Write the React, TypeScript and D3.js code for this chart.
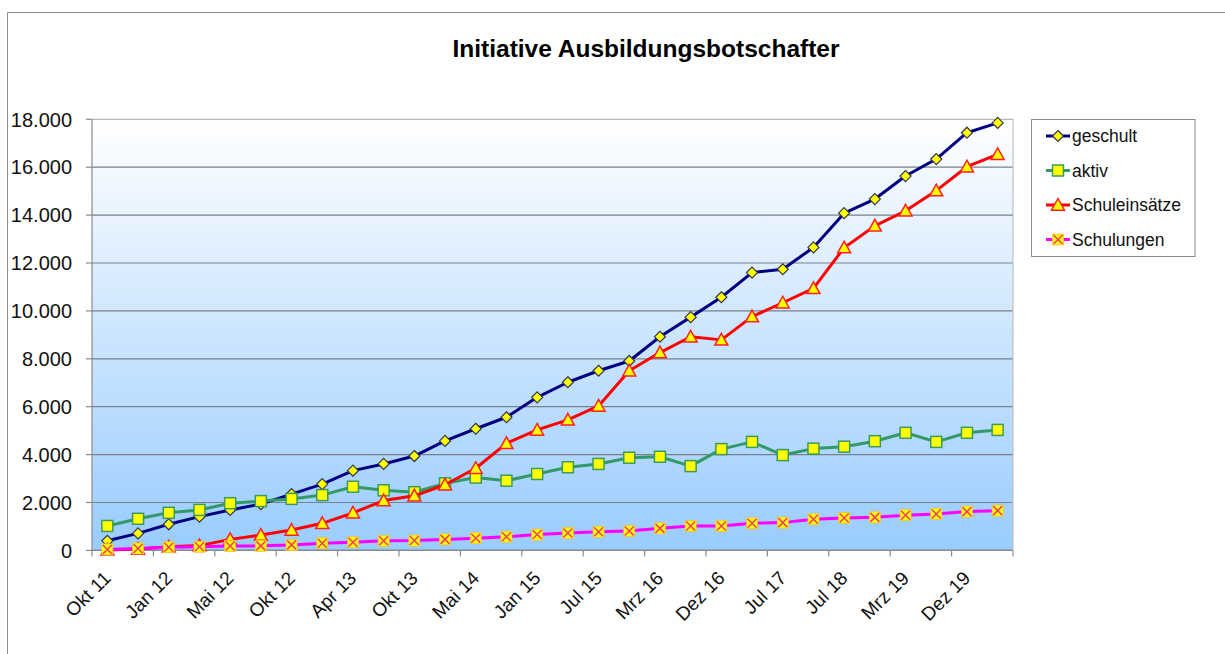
import React from "react";
import * as d3 from "d3";

const categories = [
  "Okt 11","Nov 11","Jan 12","Mrz 12","Mai 12","Jul 12","Okt 12","Jan 13","Apr 13","Jul 13",
  "Okt 13","Jan 14","Mai 14","Sep 14","Jan 15","Apr 15","Jul 15","Okt 15","Mrz 16","Jul 16",
  "Dez 16","Mrz 17","Jul 17","Jan 18","Jul 18","Okt 18","Mrz 19","Jul 19","Dez 19","Mrz 20",
];
const geschult = [400,710,1090,1410,1690,1930,2350,2770,3330,3610,3940,4570,5080,5560,6390,7020,7500,7910,8920,9740,10570,11600,11740,12650,14080,14670,15630,16340,17440,17850];
const aktiv = [1020,1320,1570,1690,1970,2060,2150,2310,2660,2510,2430,2800,3040,2910,3190,3470,3610,3870,3910,3520,4230,4530,3980,4250,4330,4560,4910,4530,4910,5030];
const schuleinsaetze = [20,60,150,200,460,640,850,1130,1570,2080,2280,2740,3430,4470,5030,5450,6030,7500,8260,8920,8790,9760,10340,10940,12640,13550,14180,15020,16020,16540];
const schulungen = [40,80,130,150,180,190,230,300,340,400,410,460,510,570,660,730,780,810,920,1020,1020,1130,1160,1300,1350,1380,1470,1520,1620,1660];
const yTicks = [0,2000,4000,6000,8000,10000,12000,14000,16000,18000];
const seriesNames = ["geschult","aktiv","Schuleinsätze","Schulungen"];

const W = 1225, H = 654;
const L = 92, R = 1013, T = 119.3, B = 550.4;
const FONT = "'Liberation Sans', Arial, sans-serif";

const fmt = (v: number) => d3.format(",")(v).replace(/,/g, ".");

function Marker({ kind, x, y }: { kind: string; x: number; y: number }) {
  if (kind === "diamond") {
    const s = 5.5;
    return <path d={`M${x},${y - s}L${x + s},${y}L${x},${y + s}L${x - s},${y}Z`} fill="#FFFF00" stroke="#333355" strokeWidth={1.2} />;
  }
  if (kind === "square") {
    const s = 5.5;
    return <rect x={x - s} y={y - s} width={2 * s} height={2 * s} fill="#FFFF00" stroke="#3C9A5A" strokeWidth={1.5} />;
  }
  if (kind === "triangle") {
    const s = 6.5;
    return <path d={`M${x},${y - s}L${x + s},${y + s * 0.8}L${x - s},${y + s * 0.8}Z`} fill="#FFFF00" stroke="#FF2020" strokeWidth={1.5} />;
  }
  const s = 5.5;
  return (
    <g>
      <rect x={x - s} y={y - s} width={2 * s} height={2 * s} fill="#FFFF00" stroke="#F0C040" strokeWidth={0.8} />
      <path d={`M${x - s + 1},${y - s + 1}L${x + s - 1},${y + s - 1}M${x + s - 1},${y - s + 1}L${x - s + 1},${y + s - 1}`} stroke="#F04060" strokeWidth={1.5} />
    </g>
  );
}

export default function App() {
  const x = d3.scaleBand<string>().domain(categories).range([L, R]).padding(0);
  const bw = x.bandwidth();
  const cx = (i: number) => (x(categories[i]) as number) + bw / 2;
  const y = d3.scaleLinear().domain([0, 18000]).range([B, T]);

  const series = [
    { name: seriesNames[0], data: geschult, color: "#000080", kind: "diamond" },
    { name: seriesNames[1], data: aktiv, color: "#339966", kind: "square" },
    { name: seriesNames[2], data: schuleinsaetze, color: "#FF0000", kind: "triangle" },
    { name: seriesNames[3], data: schulungen, color: "#FF00FF", kind: "x" },
  ];

  const line = d3.line<number>().x((_, i) => cx(i)).y((d) => y(d));

  const boundaryTicks = d3.range(0, categories.length + 1, 2).map((i) => L + i * bw);

  return (
    <svg width={W} height={H} style={{ position: "absolute", left: 0, top: 0 }} fontFamily={FONT}>
      <defs>
        <linearGradient id="bg" x1="0" y1="0" x2="0" y2="1">
          <stop offset="0" stopColor="#FFFFFF" />
          <stop offset="1" stopColor="#99CCFF" />
        </linearGradient>
      </defs>
      <rect x={0} y={0} width={W} height={H} fill="#fff" />
      <path d={`M7.5,${H}L7.5,12.5L${W},12.5`} fill="none" stroke="#8c8c8c" strokeWidth={1} />

      <text x={646} y={57} textAnchor="middle" fontSize={24.5} fontWeight="bold" fill="#000">Initiative Ausbildungsbotschafter</text>

      <rect x={L} y={T} width={R - L} height={B - T} fill="url(#bg)" />
      {yTicks.map((t) => (
        <line key={t} x1={L} x2={R} y1={y(t)} y2={y(t)} stroke={t === 18000 ? "#b8b8b8" : "#7a8088"} strokeWidth={1.2} />
      ))}
      <line x1={R} x2={R} y1={T} y2={B} stroke="#c0c0c0" strokeWidth={1.2} />
      <line x1={L} x2={L} y1={T} y2={B} stroke="#8a8a8a" strokeWidth={1.2} />
      <line x1={L} x2={R} y1={B} y2={B} stroke="#8a8a8a" strokeWidth={1.2} />
      {yTicks.map((t) => (
        <g key={"yt" + t}>
          <line x1={L - 6} x2={L} y1={y(t)} y2={y(t)} stroke="#8a8a8a" strokeWidth={1.2} />
          <text x={72} y={y(t)} dy="0.36em" textAnchor="end" fontSize={20} fill="#111">{fmt(t)}</text>
        </g>
      ))}
      {boundaryTicks.map((bx, k) => (
        <line key={"xt" + k} x1={bx} x2={bx} y1={B} y2={B + 6} stroke="#8a8a8a" strokeWidth={1.2} />
      ))}
      {categories.map((c, i) =>
        i % 2 === 0 ? (
          <text key={c} transform={`translate(${cx(i) + 4.6},${B + 29})rotate(-45)`} textAnchor="end" fontSize={19} fill="#111">{c}</text>
        ) : null
      )}

      {series.map((s) => (
        <g key={s.name}>
          <path d={line(s.data) as string} fill="none" stroke={s.color} strokeWidth={3} strokeLinejoin="round" />
          {s.data.map((v, i) => (
            <Marker key={i} kind={s.kind} x={cx(i)} y={y(v)} />
          ))}
        </g>
      ))}

      <rect x={1031.5} y={119.5} width={163.5} height={137} fill="#fff" stroke="#8c8c8c" strokeWidth={1} />
      {series.map((s, k) => {
        const ly = 136 + k * 34.5;
        return (
          <g key={"lg" + s.name}>
            <line x1={1046} x2={1070} y1={ly} y2={ly} stroke={s.color} strokeWidth={3} />
            <Marker kind={s.kind} x={1058} y={ly} />
            <text x={1072} y={ly} dy="0.36em" fontSize={17.5} fill="#111">{s.name}</text>
          </g>
        );
      })}
    </svg>
  );
}
